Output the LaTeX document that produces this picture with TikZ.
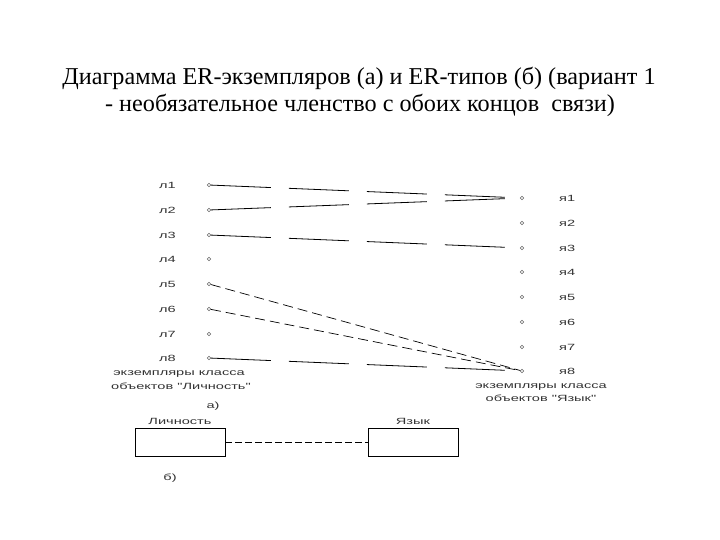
\documentclass[tikz,border=0pt]{standalone}
\usepackage{fontspec}
\usepackage{graphicx}
\setmainfont{Liberation Serif}
\newfontfamily\smallsans{Liberation Sans}
\newcommand\widetext[1]{\scalebox{1.62}[1]{#1}}
\begin{document}
\begin{tikzpicture}[x=1pt,y=1pt,
  ttl/.style={font=\fontsize{24.2}{28}\selectfont, inner sep=0pt},
  lbl/.style={font=\smallsans\fontsize{9}{10}\selectfont, inner sep=0pt, text=black!80},
  dot/.style={circle, draw=black!60, line width=0.5pt, minimum size=3.5pt, inner sep=0pt},
  longdash/.style={line width=0.8pt, dash pattern=on 60pt off 18pt},
  meddash/.style={line width=0.7pt, dash pattern=on 10pt off 5pt},
  entbox/.style={draw, line width=0.9pt, minimum width=90pt, minimum height=28pt, inner sep=0pt}]
\useasboundingbox (0,0) rectangle (720,-540);
\fill[white] (0,0) rectangle (720,-540);
% title
\node[ttl] (t1) at (359,-78) {Диаграмма ER-экземпляров (а) и ER-типов (б) (вариант 1};
\node[ttl] (t2) at (360,-105) {- необязательное членство с обоих концов\ \ связи)};
% left instances
\foreach \i/\y in {1/185,2/210,3/235,4/259,5/284,6/309,7/334,8/358}{
  \node[lbl, anchor=west] (ll\i) at (159,-\y) {\widetext{л\i}};
  \node[dot] (ld\i) at (209,-\y) {};
}
% right instances
\foreach \i/\y in {1/198,2/223,3/248,4/272,5/297,6/322,7/347,8/371}{
  \node[dot] (rd\i) at (522,-\y) {};
  \node[lbl, anchor=west] (rl\i) at (559,-\y) {\widetext{я\i}};
}
% links
\draw[longdash] (ld1) -- (rd1);
\draw[longdash] (ld2) -- (rd1);
\draw[longdash] (ld3) -- (rd3);
\draw[meddash] (ld5) -- (rd8);
\draw[meddash] (ld6) -- (rd8);
\draw[longdash] (ld8) -- (rd8);
% captions
\node[lbl] (cl1) at (179,-374) {\widetext{экземпляры класса}};
\node[lbl] (cl2) at (181,-386) {\widetext{объектов "Личность"}};
\node[lbl] (cr1) at (541,-387) {\widetext{экземпляры класса}};
\node[lbl] (cr2) at (541,-398) {\widetext{объектов "Язык"}};
% type diagram
\node[lbl] (a) at (213,-406) {\widetext{а)}};
\node[entbox] (p) at (180,-442) {};
\node[entbox] (l) at (413,-442) {};
\node[lbl, anchor=south] (pn) at ([yshift=3pt]p.north) {\widetext{Личность}};
\node[lbl, anchor=south] (ln) at ([yshift=3pt]l.north) {\widetext{Язык}};
\draw[line width=0.7pt, dash pattern=on 7pt off 3pt] (p.east) -- (l.west);
\node[lbl] (b) at (170,-478) {\widetext{б)}};
\end{tikzpicture}
\end{document}
